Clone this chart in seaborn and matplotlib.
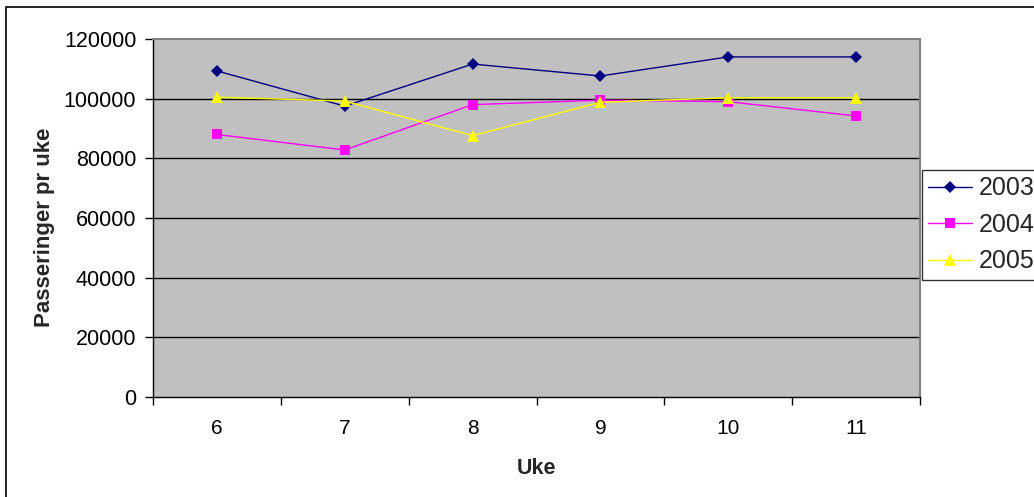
import matplotlib
matplotlib.use("Agg")
import matplotlib.pyplot as plt
from matplotlib.patches import Rectangle
from matplotlib.ticker import FixedLocator, NullFormatter
import seaborn as sns
import pandas as pd

# Weekly passages per year
weeks = [6, 7, 8, 9, 10, 11]
years = ["2003", "2004", "2005"]
v2003 = [109300, 97500, 111600, 107600, 114000, 114000]
v2004 = [88000, 82800, 98000, 99500, 99000, 94200]
v2005 = [100500, 99200, 87600, 98800, 100300, 100300]
y_ticks = [0, 20000, 40000, 60000, 80000, 100000, 120000]

df = pd.DataFrame({
    "Uke": weeks * 3,
    "Passeringer": v2003 + v2004 + v2005,
    "År": [y for y in years for _ in weeks],
})

sns.set_theme(style="white")
plt.rcParams["font.family"] = ["Liberation Sans", "DejaVu Sans"]

fig = plt.figure(figsize=(10.34, 4.97), dpi=100)
fig.patch.set_facecolor("white")
ax = fig.add_axes([153 / 1034, 1 - 397 / 497, 767 / 1034, 358 / 497])
ax.set_facecolor("#C0C0C0")

palette = {"2003": "#000080", "2004": "#FF00FF", "2005": "#FFFF00"}
markers = {"2003": "D", "2004": "s", "2005": "^"}
sizes = {"2003": 6.0, "2004": 7.0, "2005": 8.5}

for yr in years:
    sub = df[df["År"] == yr]
    sns.lineplot(data=sub, x="Uke", y="Passeringer", ax=ax, color=palette[yr],
                 marker=markers[yr], markersize=sizes[yr], markeredgewidth=0,
                 markerfacecolor=palette[yr], linewidth=1.0, label=yr,
                 legend=False, zorder=3)

ax.set_xlim(5.5, 11.5)
ax.set_ylim(0, 120000)
ax.set_yticks(y_ticks)
ax.set_yticklabels([str(t) for t in y_ticks])
ax.set_xticks(weeks)
ax.set_xticklabels([str(w) for w in weeks])
ax.xaxis.set_minor_locator(FixedLocator([5.5 + i for i in range(7)]))
ax.xaxis.set_minor_formatter(NullFormatter())

ax.grid(False)
for t in y_ticks[1:-1]:
    ax.axhline(t, color="black", linewidth=1.0, zorder=1)

ax.tick_params(axis="x", which="major", length=0, pad=16, labelsize=15, colors="black")
ax.tick_params(axis="x", which="minor", bottom=True, length=6, width=1, color="black")
ax.tick_params(axis="y", which="major", left=True, length=6, width=1, pad=6,
               labelsize=15.5, colors="black")

for side in ("top", "right"):
    ax.spines[side].set_color("#808080")
    ax.spines[side].set_linewidth(1.5)
for side in ("left", "bottom"):
    ax.spines[side].set_color("black")
    ax.spines[side].set_linewidth(1.0)

ax.set_xlabel("Uke", fontsize=15.5, fontweight="bold")
ax.set_ylabel("Passeringer pr uke", fontsize=16, fontweight="bold")
ax.xaxis.set_label_coords(0.5, -0.17)
ax.yaxis.set_label_coords(-0.128, 0.475)

handles, labels = ax.get_legend_handles_labels()
leg = fig.legend(handles, labels, loc="upper left",
                 bbox_to_anchor=(922 / 1034, 1 - 170 / 497),
                 frameon=True, fancybox=False, fontsize=18,
                 handlelength=1.75, handletextpad=0.28, labelspacing=0.5,
                 borderpad=0.25, borderaxespad=0)
leg.get_frame().set_edgecolor("black")
leg.get_frame().set_linewidth(1.0)
leg.get_frame().set_facecolor("white")

# Chart area border
fig.patches.append(Rectangle((6 / 1034, -0.1), 2.0, (497 - 7) / 497 + 0.1,
                             transform=fig.transFigure, fill=False,
                             edgecolor="black", linewidth=1.2))

fig.savefig("out.png", dpi=100, facecolor="white")
